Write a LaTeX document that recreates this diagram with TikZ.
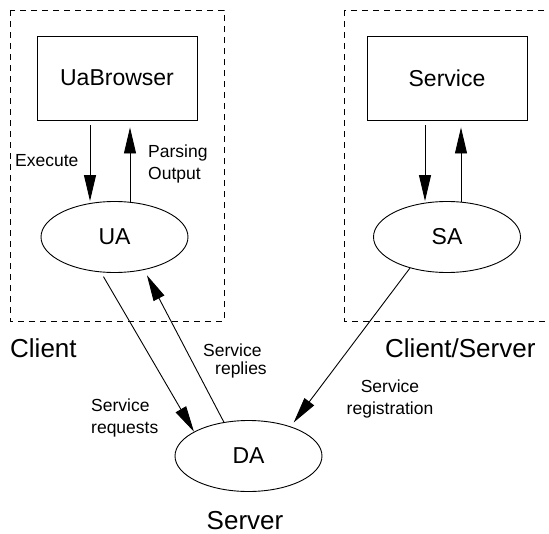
\documentclass[tikz,border=0pt]{standalone}
\usepackage{fontspec}
\setmainfont{Liberation Sans}
\usetikzlibrary{shapes.geometric,arrows.meta,calc}

\begin{document}
\begin{tikzpicture}[x=1pt,y=-1pt,
  box/.style={draw, line width=0.9pt, minimum width=160pt, minimum height=84pt, inner sep=0pt, font=\fontsize{23}{27}\selectfont},
  agent/.style={draw, ellipse, line width=0.9pt, minimum width=147pt, minimum height=71pt, inner sep=0pt, font=\fontsize{23}{27}\selectfont},
  zone/.style={draw, dash pattern=on 6pt off 5pt, line width=0.7pt},
  flow/.style={-{Triangle[length=26pt,width=12pt]}, line width=0.9pt},
  lbl/.style={inner sep=0pt, font=\fontsize{17.5}{21.5}\selectfont},
  site/.style={inner sep=0pt, font=\fontsize{26}{30}\selectfont}]
  % y runs downwards, 1 unit = 1pt
  \useasboundingbox (0,0) rectangle (549,533);
  % hosts (the right one runs past the page edge)
  \draw[zone] (10,10) rectangle (224,321);
  \draw[zone] (344,10) rectangle (562,321);
  % programs and agents
  \node[box] (ub) at (117,78) {UaBrowser};
  \node[box] (svc) at (447,78) {Service};
  \node[agent] (ua) at (114.5,237) {UA};
  \node[agent] (sa) at (447,237) {SA};
  \node[agent] (da) at (248.5,456) {DA};
  % local calls
  \draw[flow] ($(ub.south)+(-27,5)$) -- ($(ua.north)+(-24.5,0)$);
  \draw[flow] ($(ua.north)+(15.5,0.5)$) -- ($(ub.south)+(13,7)$);
  \draw[flow] ($(svc.south)+(-22,5)$) -- ($(sa.north)+(-22,0)$);
  \draw[flow] ($(sa.north)+(14,0.5)$) -- ($(svc.south)+(14,7)$);
  % messages to and from the directory
  \draw[flow, shorten <=5pt] (ua.-111) -- (da.156);
  \draw[flow, shorten >=6pt] (da.126) -- (ua.-48);
  \draw[flow, shorten >=5pt] (sa.-140) -- (da.35);
  % labels
  \node[lbl, anchor=west] (exec) at (15,160.5) {Execute};
  \node[lbl, anchor=west, align=left] (parse) at (148,164) {Parsing\\Output};
  \node[lbl, anchor=west, align=left] (rep) at (203,361) {Service\\[-3pt]\hspace*{12pt}replies};
  \node[lbl, anchor=west, align=left] (req) at (91,418) {Service\\requests};
  \node[lbl, align=center] (reg) at (390,399) {Service\\registration};
  \node[site, anchor=base west] (cl) at (10,357) {Client};
  \node[site, anchor=base west] (cs) at (385,357) {Client/Server};
  \node[site, anchor=base] (srv) at (245,529.5) {Server};
\end{tikzpicture}
\end{document}
